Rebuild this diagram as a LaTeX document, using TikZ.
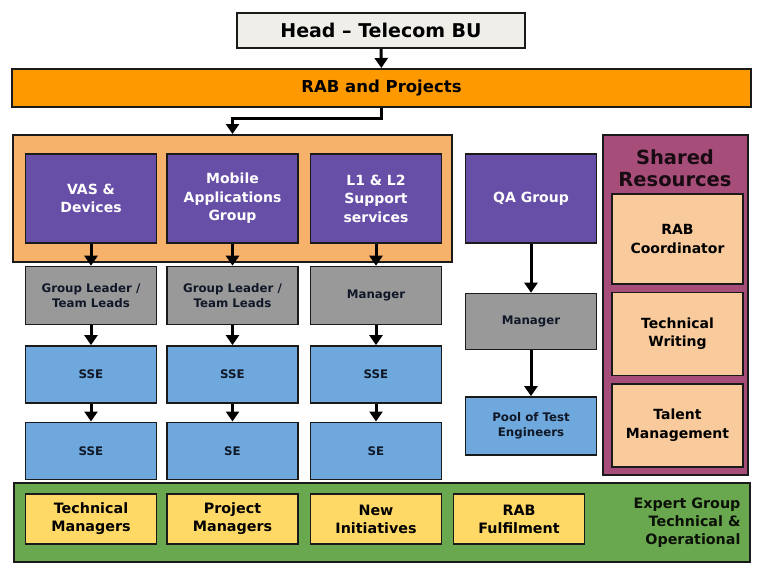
\documentclass[tikz,border=0pt]{standalone}
\usepackage{fontspec}
\setmainfont{DejaVu Sans}
\usetikzlibrary{positioning, arrows.meta, decorations.markings}
\tikzset{
    Arrow/.style = {
        line width=3pt,
        decoration={
            markings,
            mark=at position 1 with {
                \arrow[#1]{Triangle[length=10pt, width=13pt]}
                }
            },
        shorten >= 5pt,
        preaction = {decorate}
    },
    Arrow/.default={black},
    Box/.style = {draw=edgeGray, line width=1.4pt, align=center,
        inner sep=2pt, minimum width=131pt, font=\bfseries},
    Frame/.style = {draw=edgeGray, line width=2pt, inner sep=0pt},
    GroupBox/.style = {Box, fill=groupFill, text=white, minimum height=89pt,
        font=\bfseries\fontsize{14}{18.5}\selectfont},
    LeadBox/.style = {Box, fill=leadFill, text=inkDark, minimum height=58pt,
        font=\bfseries\fontsize{11.8}{15}\selectfont},
    EngBox/.style = {Box, fill=engFill, text=inkDark, minimum height=57pt,
        font=\bfseries\fontsize{11.8}{15}\selectfont},
    ResBox/.style = {Box, fill=resFill, text=black, minimum width=131pt,
        font=\bfseries\fontsize{14}{18.5}\selectfont},
    RoleBox/.style = {Box, fill=roleFill, text=black, minimum height=50pt,
        font=\bfseries\fontsize{14.3}{18}\selectfont}
}
\definecolor{edgeGray}{HTML}{1A1A1A}
\definecolor{inkDark}{HTML}{101828}
\definecolor{headFill}{HTML}{EFEEE9}
\definecolor{rabFill}{HTML}{FF9900}
\definecolor{techFill}{HTML}{F6B26B}
\definecolor{groupFill}{HTML}{674EA7}
\definecolor{leadFill}{HTML}{999999}
\definecolor{engFill}{HTML}{6FA8DC}
\definecolor{sharedFill}{HTML}{A64D79}
\definecolor{resFill}{HTML}{F9CB9C}
\definecolor{expertFill}{HTML}{6AA84F}
\definecolor{roleFill}{HTML}{FFD966}

\begin{document}
\begin{tikzpicture}[x=1pt, y=-1pt]
    \useasboundingbox (0,0) rectangle (757,570);
    % top of the chart
    \node[Frame, fill=headFill, minimum width=288pt, minimum height=35pt,
        font=\bfseries\fontsize{19}{22}\selectfont] (head) at (381,30.5) {Head -- Telecom BU};
    \node[Frame, fill=rabFill, minimum width=739pt, minimum height=38pt,
        font=\bfseries\fontsize{16.5}{20}\selectfont] (rab) at (381.5,88) {RAB and Projects};
    % containers
    \node[Frame, fill=techFill, minimum width=439pt, minimum height=127pt] (techGrp) at (232.5,198.5) {};
    \node[Frame, fill=sharedFill, minimum width=145pt, minimum height=340pt] (shared) at (675.5,305) {};
    \node[Frame, fill=expertFill, minimum width=736pt, minimum height=79pt] (expert) at (382,522.5) {};
    % development groups
    \node[GroupBox] (vas) at (91,198.5) {VAS \&\\Devices};
    \node[GroupBox] (mobile) at (232.5,198.5) {Mobile\\Applications\\Group};
    \node[GroupBox] (support) at (376,198.5) {L1 \& L2\\Support\\services};
    \node[GroupBox] (qa) at (531,198.5) {QA Group};
    \node[LeadBox, below=22pt of vas] (vasLead) {Group Leader /\\Team Leads};
    \node[LeadBox, below=22pt of mobile] (mobileLead) {Group Leader /\\Team Leads};
    \node[LeadBox, below=22pt of support] (supportLead) {Manager};
    \node[EngBox, below=20pt of vasLead] (vasSse) {SSE};
    \node[EngBox, below=20pt of mobileLead] (mobileSse) {SSE};
    \node[EngBox, below=20pt of supportLead] (supportSse) {SSE};
    \node[EngBox, below=18pt of vasSse] (vasEng) {SSE};
    \node[EngBox, below=18pt of mobileSse] (mobileEng) {SE};
    \node[EngBox, below=18pt of supportSse] (supportEng) {SE};
    \node[LeadBox, minimum height=56pt, below=49pt of qa] (qaLead) {Manager};
    \node[EngBox, minimum height=58pt, below=46pt of qaLead] (qaPool) {Pool of Test\\Engineers};
    % shared resources
    \node[font=\bfseries\fontsize{19.5}{22.5}\selectfont, text=black!85!sharedFill, align=center]
        (sharedTitle) at (675,168) {Shared\\Resources};
    \node[ResBox, minimum height=90pt] (rabCoord) at (677.5,239) {RAB\\Coordinator};
    \node[ResBox, minimum height=83pt, below=7pt of rabCoord] (techWriting) {Technical\\Writing};
    \node[ResBox, minimum height=83pt, below=7pt of techWriting] (talent) {Talent\\Management};
    % expert group
    \node[RoleBox] (techMgr) at (91,519) {Technical\\Managers};
    \node[RoleBox] (projMgr) at (232.5,519) {Project\\Managers};
    \node[RoleBox] (newInit) at (376,519) {New\\Initiatives};
    \node[RoleBox] (rabFul) at (519,519) {RAB\\Fulfilment};
    \node[anchor=east, align=right, text=black!90!expertFill,
        font=\bfseries\fontsize{14.3}{18}\selectfont] (expertText) at (744,523) {Expert Group\\Technical \&\\Operational};
    % connectors
    \draw [Arrow] (head) to (rab);
    \draw [Arrow] (rab.south) -- ++(0,10) -| (techGrp.north);
    \foreach \col in {vas, mobile, support, qa} {
        \draw [Arrow] (\col) to (\col Lead);
    }
    \foreach \col in {vas, mobile, support} {
        \draw [Arrow] (\col Lead) to (\col Sse);
        \draw [Arrow] (\col Sse) to (\col Eng);
    }
    \draw [Arrow] (qaLead) to (qaPool);
\end{tikzpicture}
\end{document}
